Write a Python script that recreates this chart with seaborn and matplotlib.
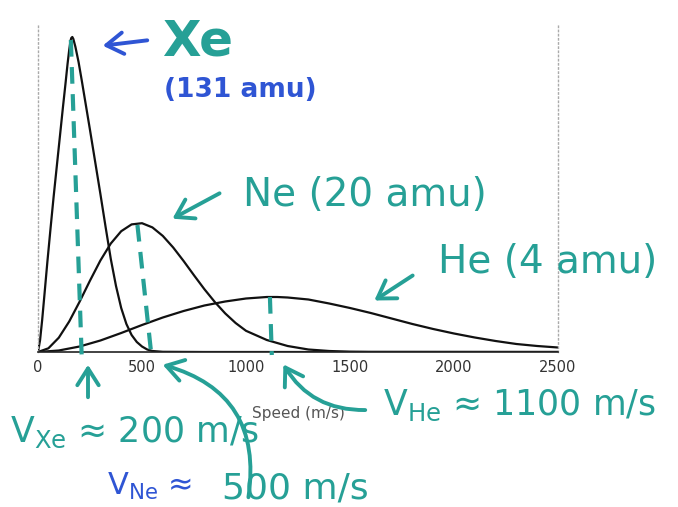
import matplotlib
matplotlib.use("Agg")
import matplotlib.pyplot as plt
import seaborn as sns
import pandas as pd

sns.set_style("white")
plt.rcParams['font.family'] = ['DejaVu Sans']

# Speed distributions (relative fraction of molecules)
speed_xe = [0, 10, 20, 30, 45, 60, 75, 90, 105, 120, 132, 142, 150, 156, 160, 165,
            170, 180, 195, 210, 230, 250, 275, 300, 325, 350, 375, 400, 425, 450,
            475, 500, 525, 550, 600, 800, 1500, 2500]
frac_xe = [0, 12, 32, 55, 90, 123, 155, 185, 215, 245, 268, 288, 302, 311, 314, 315,
           313, 305, 290, 272, 247, 222, 190, 158, 125, 93, 66, 44, 28, 17,
           10, 5.5, 2.5, 1, 0.2, 0, 0, 0]

speed_ne = [0, 50, 100, 150, 200, 250, 300, 350, 400, 450, 500, 550, 600, 650, 700,
            750, 800, 850, 900, 950, 1000, 1100, 1200, 1300, 1400, 1500, 1600, 2500]
frac_ne = [0, 3.7, 14.3, 30.5, 50.3, 71.4, 91.5, 108.5, 120.8, 127.6, 128.8, 124.6,
           116.1, 104.5, 91, 76.7, 62.8, 50, 38.6, 29, 21.2, 12, 6, 2.5, 1, 0.3, 0.1, 0]

speed_he = [0, 100, 200, 300, 400, 500, 600, 700, 800, 900, 1000, 1100, 1150, 1200,
            1300, 1400, 1500, 1600, 1700, 1800, 1900, 2000, 2100, 2200, 2300, 2400, 2500]
frac_he = [0, 1.5, 5.5, 11.5, 19, 27, 34.5, 41, 46.5, 50.5, 53.5, 55, 55, 54.5,
           52.5, 48.5, 44, 39, 33.5, 28, 23, 18.5, 14.5, 11, 8, 6, 4.5]

# hand-drawn dashed markers for the most probable speeds (top / bottom ends)
mark_gas = ['Xe', 'Ne', 'He']
mark_speed_top = [158, 478, 1115]
mark_frac_top = [312, 127, 55]
mark_speed_bottom = [210, 545, 1124]
mark_frac_bottom = [-4, -3, -3]

x_ticks = [0, 500, 1000, 1500, 2000, 2500]

df = pd.concat([
    pd.DataFrame({'Speed': speed_xe, 'Fraction': frac_xe, 'Gas': 'Xe'}),
    pd.DataFrame({'Speed': speed_ne, 'Fraction': frac_ne, 'Gas': 'Ne'}),
    pd.DataFrame({'Speed': speed_he, 'Fraction': frac_he, 'Gas': 'He'}),
])

teal = '#26a096'
blue = '#2f55d4'

W, H = 678, 507
fig = plt.figure(figsize=(W / 100, H / 100), dpi=100)
ax = fig.add_axes([38 / W, 1 - 352 / H, 520 / W, 329 / H])

sns.lineplot(data=df, x='Speed', y='Fraction', units='Gas', estimator=None,
             color='#111111', linewidth=1.6, ax=ax, legend=False)

for i in range(len(mark_gas)):
    ax.plot([mark_speed_top[i], mark_speed_bottom[i]],
            [mark_frac_top[i], mark_frac_bottom[i]],
            color=teal, linestyle=(0, (4, 2.5)), linewidth=3, clip_on=False, zorder=3)

ax.set_xlim(0, 2500)
ax.set_ylim(0, 329)
ax.set_xticks(x_ticks)
ax.set_xticklabels([str(t) for t in x_ticks])
ax.set_yticks(range(0, 330, 22))
ax.set_yticklabels([])
ax.tick_params(axis='x', direction='in', length=3, pad=6, labelsize=10.5,
               colors='#333333')
ax.tick_params(axis='y', direction='in', length=2.5, color='#888888')
ax.set_xlabel('Speed (m/s)', fontsize=11, color='#555555', labelpad=22)
ax.set_ylabel('')

for side in ['left', 'right']:
    ax.spines[side].set_color('#aaaaaa')
    ax.spines[side].set_linestyle((0, (1, 2)))
    ax.spines[side].set_linewidth(1)
ax.spines['top'].set_visible(False)
ax.spines['bottom'].set_color('#222222')
ax.spines['bottom'].set_linewidth(1.2)


def fp(x, y):
    # picture pixels (top-left origin) -> figure fraction
    return (x / W, 1 - y / H)


def arrow(tail, head, color, rad=0.0):
    fig.patches.append(matplotlib.patches.FancyArrowPatch(
        fp(*tail), fp(*head), transform=fig.transFigure,
        arrowstyle='->,head_length=0.55,head_width=0.35', color=color, lw=2.8,
        connectionstyle=f'arc3,rad={rad}', mutation_scale=22,
        capstyle='round', joinstyle='round'))


# Xe label
arrow((150, 40), (100, 46), blue)
fig.text(*fp(198, 42), 'Xe', color=teal, fontsize=36, fontweight='bold',
         ha='center', va='center')
fig.text(*fp(240, 90), '(131 amu)', color=blue, fontsize=19, fontweight='bold',
         ha='center', va='center')

# Ne label
arrow((222, 192), (170, 220), teal)
fig.text(*fp(365, 195), 'Ne (20 amu)', color=teal, fontsize=28,
         ha='center', va='center')

# He label
arrow((415, 274), (372, 302), teal)
fig.text(*fp(548, 262), 'He (4 amu)', color=teal, fontsize=28,
         ha='center', va='center')

# most-probable speed notes
arrow((88, 400), (88, 362), teal)
fig.text(*fp(135, 432), r'V$_\mathregular{Xe}$ ≈ 200 m/s', color=teal, fontsize=25,
         ha='center', va='center')

arrow((248, 500), (160, 364), teal, rad=0.45)
fig.text(*fp(150, 486), r'V$_\mathregular{Ne}$ ≈', color=blue, fontsize=22,
         ha='center', va='center')
fig.text(*fp(295, 488), '500 m/s', color=teal, fontsize=26,
         ha='center', va='center')

arrow((368, 410), (282, 362), teal, rad=-0.3)
fig.text(*fp(520, 405), r'V$_\mathregular{He}$ ≈ 1100 m/s', color=teal, fontsize=25,
         ha='center', va='center')

fig.savefig('out.png', dpi=100, facecolor='white')
